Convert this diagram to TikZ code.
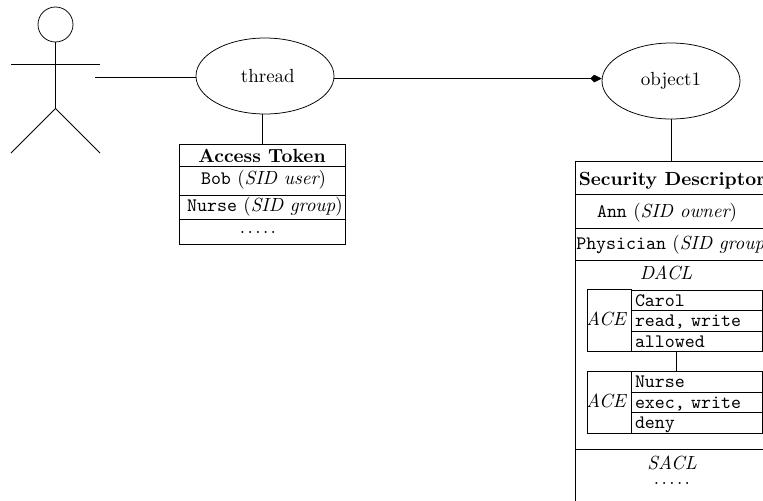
\documentclass[tikz,border=0pt]{standalone}
\usetikzlibrary{shapes.geometric,arrows.meta}

\def\px{0.5263pt}
\newcommand{\dotrow}{$.\mkern2.3mu.\mkern2.3mu.\mkern2.3mu.\mkern2.3mu.$}

\begin{document}
\begin{tikzpicture}[x=0.5263pt,y=-0.5263pt,-]
        \tikzstyle{actor}=[circle,draw=black,minimum size=35*\px,inner sep=0pt]
        \tikzstyle{proc}=[ellipse,draw=black,inner sep=0pt]
        \tikzstyle{row}=[rectangle,draw=black,inner sep=0pt,outer sep=0pt]
        \tikzstyle{cell}=[rectangle,draw=black,inner sep=0pt,outer sep=0pt,align=left,text width=123*\px,minimum width=131*\px,text height=6.1pt,text depth=0pt]
        \tikzstyle{label}=[inner sep=0pt]

        \useasboundingbox (0,0) rectangle (763,500);
        \clip (0,0) rectangle (763,500);

        % actor
        \node[actor] (head) at (55.5,24.5) {};
        \coordinate (hip) at (55.5,108.5);
        \coordinate (armL) at (11,64);
        \coordinate (armR) at (100,64);
        \coordinate (legL) at (11,153);
        \coordinate (legR) at (100,153);
        \coordinate (hand) at (95,77);
        \draw (head) -- (hip);
        \draw (armL) -- (armR);
        \draw (hip) -- (legL);
        \draw (hip) -- (legR);

        \node[proc,minimum width=138*\px,minimum height=76*\px] (thread) at (265,76) {\hspace*{3pt}thread};
        \node[proc,minimum width=138*\px,minimum height=76*\px] (object1) at (671,81) {object1};

        % access token
        \foreach \name/\y/\h in {at/155/22, ab/180.5/29, an/207/24, ad/231.5/25}
                \node[row,minimum width=166*\px,minimum height=\h*\px] (\name) at (262,\y) {};
        \foreach \name/\x/\y/\txt in {
                att/262/156/{\textbf{Access Token}},
                abt/263.5/180/{\texttt{Bob} $(\textit{SID user})$},
                ant/265/207/{\texttt{Nurse} $(\textit{SID group})$},
                adt/258/232/{\dotrow}}
                \node[label] (\name) at (\x,\y) {\txt};

        % security descriptor
        \foreach \name/\y/\h in {sd/177.75/33.5, so/211.25/33.5, sg/244/32, sl/354.5/189, ss/484.5/71}
                \node[row,minimum width=194*\px,minimum height=\h*\px] (\name) at (672,\y) {};
        \foreach \name/\x/\y/\txt in {
                sdt/672/181/{\textbf{Security Descriptor}},
                sot/667/213/{\texttt{Ann} $(\textit{SID owner})$},
                sgt/674/245/{\texttt{Physician} $(\textit{SID group})$},
                dacl/666/273/{\textit{DACL}},
                sacl/672/463/{\textit{SACL}},
                sdots/672/483/{\dotrow}}
                \node[label] (\name) at (\x,\y) {\txt};

        % ace entries
        \foreach \name/\y/\first/\second/\third in {
                ua/320.75/Carol/{read, write}/allowed,
                ub/402.5/Nurse/{exec, write}/deny} {
                \node[row,minimum width=44*\px,minimum height=62*\px] (\name-l) at (609,\y) {};
                \node[label] (\name-t) at (606.5,\y-1.5) {\textit{ACE}};
                \node[cell,minimum height=20.5*\px] (\name-2) at (696.5,\y) {\texttt{\second}};
                \node[cell,minimum height=20.5*\px,above=0pt] (\name-1) at (\name-2.north) {\texttt{\first}};
                \node[cell,minimum height=20.5*\px,below=0pt] (\name-3) at (\name-2.south) {\texttt{\third}};
        }

        \draw (at.north |- thread.south) -- (at.north);
        \draw (object1.south) -- (object1.south |- sd.north);
        \draw (hand) -- (hand -| thread.west);
        \draw[-{Kite[length=6pt,width=4pt,inset=2pt]}] (thread.-2) -- (object1.178);
        \draw (ua-3.south -| 676,0) -- (ub-1.north -| 676,0);
\end{tikzpicture}
\end{document}
